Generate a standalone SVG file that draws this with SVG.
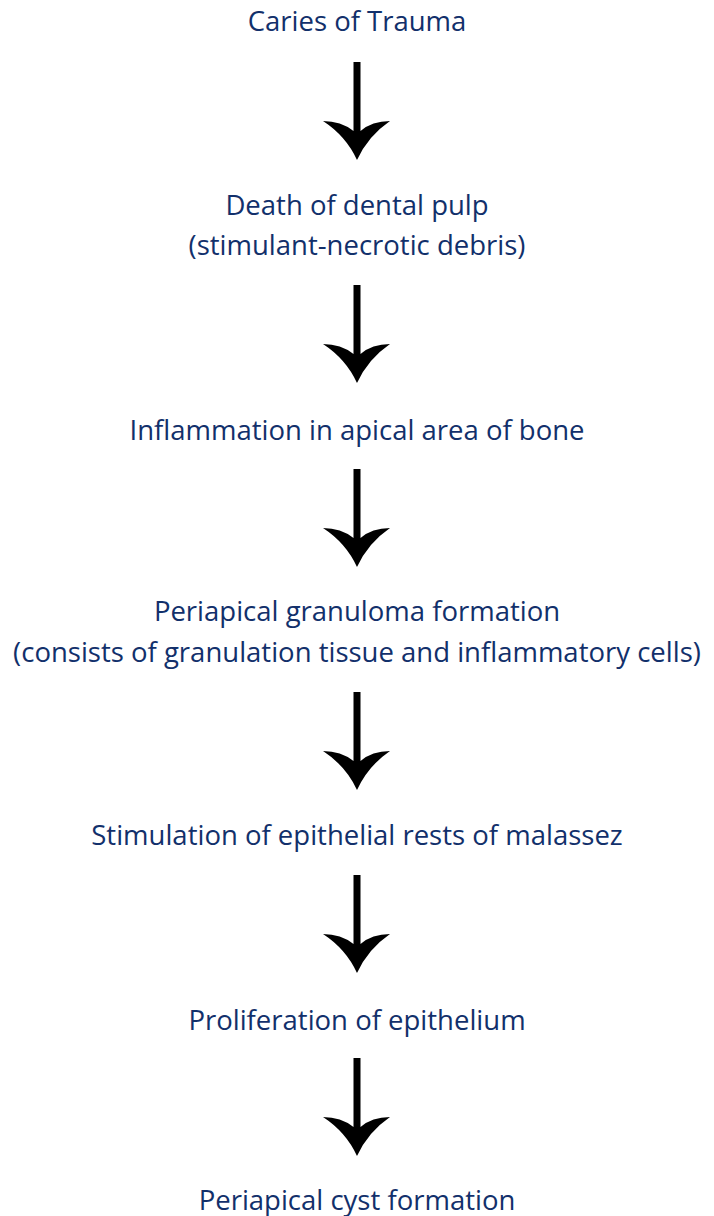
<svg xmlns="http://www.w3.org/2000/svg" width="714" height="1216" viewBox="0 0 714 1216">
<style>
.t{font-family:"Open Sans","Noto Sans",sans-serif;font-size:27.5px;fill:#12306b;text-anchor:middle}
.a{fill:#000}
</style>
<defs>
<path id="arr" d="M -3.5,0 H 3.5 V 69 Q 15,59 33,59 Q 11,74 0,98 Q -11,74 -34,59 Q -16,59 -3.5,69 Z"/>
</defs>
<rect width="714" height="1216" fill="#fff"/>
<g id="connectors" class="a">
<use href="#arr" transform="translate(357,62)"/>
<use href="#arr" transform="translate(357,285)"/>
<use href="#arr" transform="translate(357,469)"/>
<use href="#arr" transform="translate(357,692)"/>
<use href="#arr" transform="translate(357,875)"/>
<use href="#arr" transform="translate(357,1058)"/>
</g>
<g id="n1"><text class="t" x="357" y="31">Caries of Trauma</text></g>
<g id="n2"><text class="t" x="357" y="215">Death of dental pulp</text><text class="t" x="357" y="255">(stimulant-necrotic debris)</text></g>
<g id="n3"><text class="t" x="357" y="440">Inflammation in apical area of bone</text></g>
<g id="n4"><text class="t" x="357" y="621">Periapical granuloma formation</text><text class="t" x="357" y="662">(consists of granulation tissue and inflammatory cells)</text></g>
<g id="n5"><text class="t" x="357" y="845">Stimulation of epithelial rests of malassez</text></g>
<g id="n6"><text class="t" x="357" y="1030">Proliferation of epithelium</text></g>
<g id="n7"><text class="t" x="357" y="1210">Periapical cyst formation</text></g>
</svg>
